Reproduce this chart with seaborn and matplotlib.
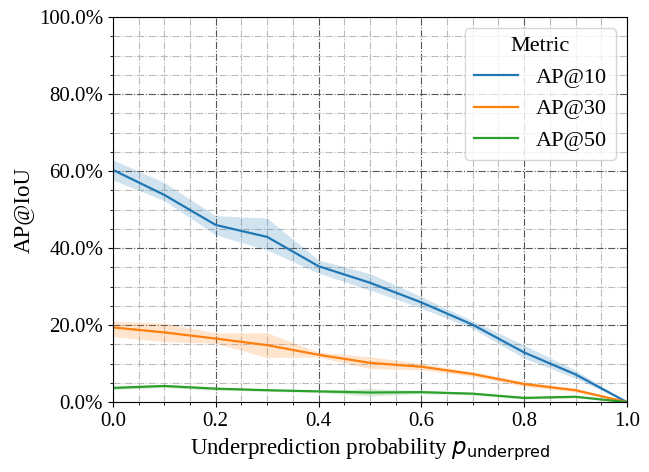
import matplotlib
matplotlib.use('Agg')
import matplotlib.pyplot as plt
import matplotlib.ticker as mticker
import pandas as pd
import seaborn as sns

# Values (in %)
p_underpred = [0.0, 0.1, 0.2, 0.3, 0.4, 0.5, 0.6, 0.7, 0.8, 0.9, 1.0]

ap10 = [60.3, 53.8, 46.0, 42.9, 35.3, 31.0, 25.9, 20.1, 12.9, 7.2, 0.0]
ap10_lo = [57.7, 52.3, 43.4, 39.5, 33.5, 29.1, 24.4, 19.1, 11.4, 6.2, 0.0]
ap10_hi = [62.9, 57.0, 48.4, 47.8, 36.9, 33.4, 27.4, 21.1, 14.8, 8.3, 0.0]

ap30 = [19.4, 18.1, 16.5, 14.8, 12.3, 10.2, 9.2, 7.3, 4.7, 3.1, 0.0]
ap30_lo = [17.0, 15.7, 15.3, 11.6, 11.7, 8.7, 8.4, 6.7, 4.1, 2.6, 0.0]
ap30_hi = [21.0, 20.5, 18.0, 18.0, 13.0, 11.8, 10.0, 7.9, 5.3, 3.6, 0.0]

ap50 = [3.7, 4.2, 3.5, 3.1, 2.8, 2.5, 2.6, 2.2, 1.1, 1.4, 0.0]
ap50_lo = [3.3, 3.8, 3.1, 2.8, 2.5, 1.6, 2.2, 1.9, 0.8, 1.1, 0.0]
ap50_hi = [4.1, 4.6, 3.9, 3.4, 3.1, 3.5, 3.0, 2.5, 1.4, 1.7, 0.0]

metrics = ['AP@10', 'AP@30', 'AP@50']

# long-form frame for seaborn
df = pd.DataFrame({
    'p': p_underpred * 3,
    'value': ap10 + ap30 + ap50,
    'Metric': [m for m in metrics for _ in p_underpred],
})
bands = {'AP@10': (ap10_lo, ap10_hi), 'AP@30': (ap30_lo, ap30_hi), 'AP@50': (ap50_lo, ap50_hi)}

plt.rcParams['font.family'] = ['Liberation Serif', 'DejaVu Serif']
plt.rcParams['mathtext.fontset'] = 'dejavusans'
plt.rcParams['font.size'] = 15

palette = sns.color_palette('tab10', 3)

fig, ax = plt.subplots(figsize=(6.49, 4.72), dpi=100)
fig.subplots_adjust(left=0.174, right=0.966, top=0.964, bottom=0.148)

sns.lineplot(data=df, x='p', y='value', hue='Metric', hue_order=metrics,
             palette=palette, errorbar=None, linewidth=1.6, ax=ax)

for m, c in zip(metrics, palette):
    lo, hi = bands[m]
    ax.fill_between(p_underpred, lo, hi, color=c, alpha=0.2, linewidth=0)

ax.set_xlim(0, 1)
ax.set_ylim(0, 100)
ax.xaxis.set_major_locator(mticker.MultipleLocator(0.2))
ax.xaxis.set_minor_locator(mticker.MultipleLocator(0.05))
ax.yaxis.set_major_locator(mticker.MultipleLocator(20))
ax.yaxis.set_minor_locator(mticker.MultipleLocator(5))
ax.yaxis.set_major_formatter(mticker.FuncFormatter(lambda v, _: f'{v:.1f}%'))
ax.tick_params(labelsize=15)

ax.grid(which='major', linestyle='-.', color='#555555', linewidth=0.8)
ax.grid(which='minor', linestyle='-.', color='#bbbbbb', linewidth=0.8)
ax.set_axisbelow(True)

ax.set_xlabel(r'Underprediction probability $p_{\mathsf{underpred}}$', fontsize=16.5)
ax.set_ylabel('AP@IoU', fontsize=16.5)

ax.legend(title='Metric', loc='upper right', fontsize=16, title_fontsize=16)

fig.savefig('out.png', dpi=100)
